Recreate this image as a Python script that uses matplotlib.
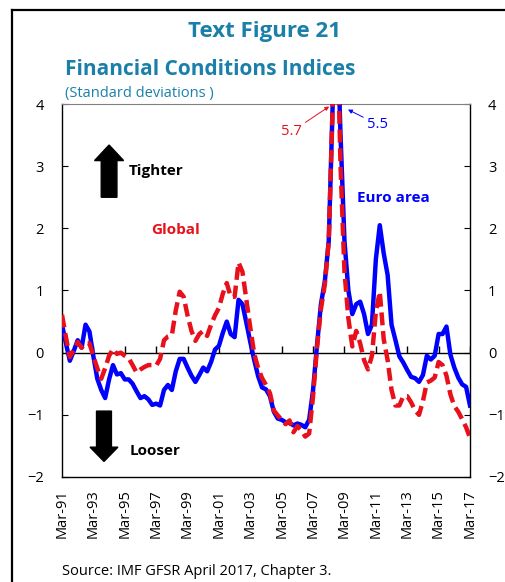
#!/usr/bin/env python3
"""
Text Figure 21: Financial Conditions Indices, global vs euro area (quarterly).
"""

import matplotlib
matplotlib.use("Agg")
import matplotlib.pyplot as plt
from matplotlib.lines import Line2D
from matplotlib.patches import FancyArrow
import numpy as np

plt.rcParams["font.family"] = ["Open Sans", "DejaVu Sans"]

# quarterly observations, Mar-91 .. Mar-17 (standard deviations)
euro_area = [
    0.45, 0.15, -0.13, 0.03, 0.20, 0.08, 0.45, 0.34, -0.06, -0.42,
    -0.60, -0.73, -0.43, -0.20, -0.35, -0.33, -0.43, -0.43, -0.50, -0.62,
    -0.73, -0.70, -0.75, -0.84, -0.82, -0.85, -0.60, -0.52, -0.60, -0.30,
    -0.10, -0.10, -0.24, -0.37, -0.47, -0.36, -0.24, -0.30, -0.15, 0.05,
    0.11, 0.32, 0.50, 0.30, 0.25, 0.85, 0.78, 0.48, 0.17, -0.12,
    -0.38, -0.56, -0.59, -0.70, -0.95, -1.06, -1.08, -1.12, -1.13, -1.17,
    -1.14, -1.16, -1.20, -1.08, -0.60, 0.12, 0.78, 1.15, 1.80, 4.00,
    5.50, 3.50, 1.80, 1.00, 0.62, 0.78, 0.82, 0.62, 0.30, 0.45,
    1.50, 2.05, 1.60, 1.25, 0.45, 0.20, -0.06, -0.16, -0.28, -0.39,
    -0.41, -0.47, -0.36, -0.05, -0.11, -0.05, 0.30, 0.30, 0.42, -0.03,
    -0.24, -0.40, -0.51, -0.55, -0.85,
]
global_fci = [
    0.61, 0.25, -0.07, 0.05, 0.17, 0.08, 0.15, 0.15, -0.06, -0.25,
    -0.42, -0.25, -0.05, 0.06, -0.02, 0.00, -0.05, -0.09, -0.20, -0.32,
    -0.27, -0.23, -0.20, -0.20, -0.21, -0.10, 0.20, 0.26, 0.28, 0.68,
    0.98, 0.90, 0.60, 0.35, 0.19, 0.30, 0.35, 0.27, 0.45, 0.60,
    0.72, 0.95, 1.12, 0.90, 0.90, 1.45, 1.30, 0.85, 0.40, -0.02,
    -0.25, -0.41, -0.52, -0.65, -0.93, -1.01, -1.08, -1.15, -1.09, -1.28,
    -1.18, -1.25, -1.35, -1.30, -0.70, 0.08, 0.70, 1.10, 1.80, 4.00,
    5.70, 3.00, 1.30, 0.55, 0.10, 0.35, 0.15, -0.12, -0.27, -0.05,
    0.65, 0.98, 0.22, -0.12, -0.60, -0.85, -0.85, -0.70, -0.70, -0.80,
    -0.93, -1.00, -0.78, -0.48, -0.45, -0.40, -0.15, -0.20, -0.37, -0.67,
    -0.86, -0.95, -1.07, -1.20, -1.37,
]
tick_labels = [
    "Mar-91", "Mar-93", "Mar-95", "Mar-97", "Mar-99", "Mar-01", "Mar-03",
    "Mar-05", "Mar-07", "Mar-09", "Mar-11", "Mar-13", "Mar-15", "Mar-17",
]

TEAL = "#1a80aa"
BLUE = "#0000ff"
RED = "#e8101a"
W, H = 505, 582


def fx(px):
    return px / W


def fy(py):
    return 1 - py / H


def main() -> None:
    fig = plt.figure(figsize=(W / 100, H / 100), dpi=100)
    ax = fig.add_axes([fx(62), fy(477), fx(470) - fx(62), fy(104) - fy(477)])

    q = np.arange(len(euro_area))
    ax.plot(q, euro_area, color=BLUE, lw=3.2, solid_joinstyle="round", zorder=3)
    ax.plot(q, global_fci, color=RED, lw=3.2, dashes=(2.9, 1.3), zorder=4)

    ax.set_xlim(0, len(q) - 1)
    ax.set_ylim(-2, 4)

    # zero line with small upward ticks every two years
    tick_pos = np.arange(0, len(q), 8)
    ax.axhline(0, color="black", lw=1.0, zorder=2)
    ax.vlines(tick_pos, 0, 0.1, color="black", lw=1.0, zorder=2)

    ax.set_xticks(tick_pos)
    ax.set_xticklabels(tick_labels, rotation=90, fontsize=10.5)
    ax.tick_params(axis="x", length=0, pad=9)

    ax.set_yticks(range(-2, 5))
    ax.tick_params(axis="y", direction="in", length=4.5, labelsize=10.5,
                   left=True, right=True, labelleft=True, labelright=True, pad=13)

    for side in ("left", "right", "bottom"):
        ax.spines[side].set_color("black")
        ax.spines[side].set_linewidth(1.0)
    ax.spines["top"].set_color("#808080")

    # labels
    ax.text(75.2, 2.49, "Euro area", color=BLUE, fontsize=11, fontweight="bold", va="center")
    ax.text(22.7, 1.97, "Global", color=RED, fontsize=11, fontweight="bold", va="center")
    ax.text(17.1, 2.93, "Tighter", color="black", fontsize=11, fontweight="bold", va="center")
    ax.text(17.3, -1.58, "Looser", color="black", fontsize=11, fontweight="bold", va="center")

    ax.add_patch(FancyArrow(12.0, 2.50, 0, 0.84, width=4.0, head_width=7.4,
                            head_length=0.25, length_includes_head=True,
                            color="black", zorder=5))
    ax.add_patch(FancyArrow(10.7, -0.94, 0, -0.81, width=3.8, head_width=7.1,
                            head_length=0.23, length_includes_head=True,
                            color="black", zorder=5))

    ax.annotate("5.7", xy=(68.1, 3.96), xytext=(58.4, 3.55), color=RED, fontsize=10.5,
                ha="center", va="center", annotation_clip=False,
                arrowprops=dict(arrowstyle="-|>", color=RED, lw=0.7,
                                mutation_scale=6, shrinkA=1, shrinkB=0))
    ax.annotate("5.5", xy=(72.9, 3.91), xytext=(80.5, 3.67), color=BLUE, fontsize=10.5,
                ha="center", va="center", annotation_clip=False,
                arrowprops=dict(arrowstyle="-|>", color=BLUE, lw=0.7,
                                mutation_scale=6, shrinkA=1, shrinkB=0))

    # titles and source
    fig.text(fx(264), fy(37), "Text Figure 21", color=TEAL, fontsize=16,
             fontweight="bold", ha="center", va="baseline")
    fig.text(fx(65), fy(75), "Financial Conditions Indices", color=TEAL, fontsize=15,
             fontweight="bold", ha="left", va="baseline")
    fig.text(fx(65), fy(97), "(Standard deviations )", color=TEAL, fontsize=10.5,
             ha="left", va="baseline")
    fig.text(fx(62), fy(575), "Source: IMF GFSR April 2017, Chapter 3.", color="black",
             fontsize=10.5, ha="left", va="baseline")

    # frame around the panel (left and top edges visible)
    fig.add_artist(Line2D([fx(12), fx(12)], [0, fy(10)], color="black", lw=1.6))
    fig.add_artist(Line2D([fx(12), 1], [fy(10), fy(10)], color="black", lw=1.6))

    fig.savefig("out.png", dpi=100)
    plt.close(fig)


if __name__ == "__main__":
    main()
